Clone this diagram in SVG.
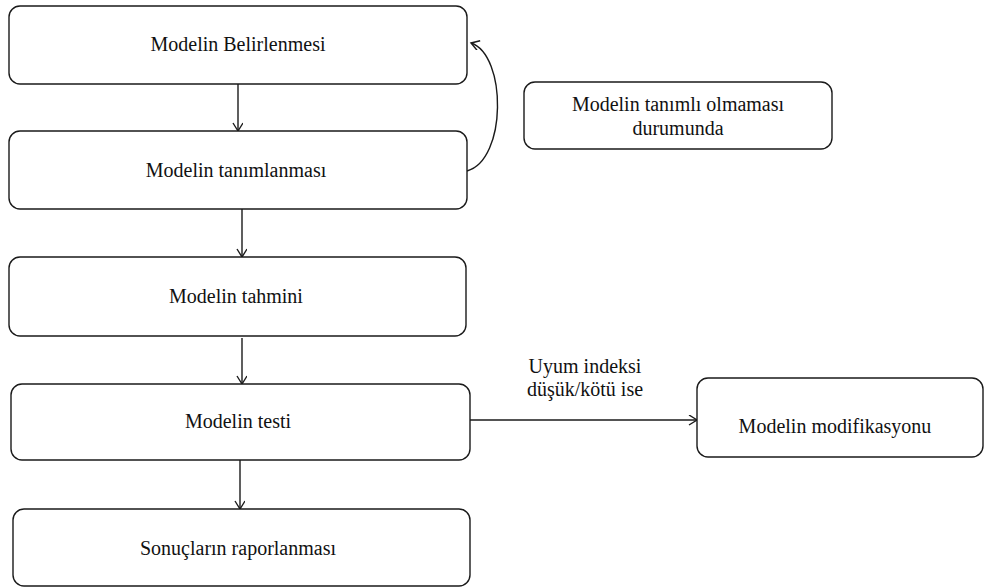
<svg xmlns="http://www.w3.org/2000/svg" width="1001" height="588" viewBox="0 0 1001 588">
<style>
.box{fill:#fff;stroke:#1a1a1a;stroke-width:1.4}
.t{font-family:'Liberation Serif','DejaVu Serif',serif;font-size:20px;fill:#111;text-anchor:middle}
.c{fill:none;stroke:#1a1a1a;stroke-width:1.4}
</style>
<defs>
<marker id="ah" markerUnits="userSpaceOnUse" markerWidth="12" markerHeight="12" refX="9" refY="5" orient="auto">
<path d="M1,0 L9,5 L1,10" fill="none" stroke="#1a1a1a" stroke-width="1.4"/>
</marker>
</defs>
<rect width="1001" height="588" fill="#fff"/>
<g id="connectors">
<line class="c" x1="238" y1="84" x2="238" y2="131" marker-end="url(#ah)"/>
<line class="c" x1="242" y1="209" x2="242" y2="257" marker-end="url(#ah)"/>
<line class="c" x1="242" y1="338" x2="242" y2="384" marker-end="url(#ah)"/>
<line class="c" x1="240" y1="460" x2="240" y2="509" marker-end="url(#ah)"/>
<line class="c" x1="470" y1="420" x2="697" y2="420" marker-end="url(#ah)"/>
<path class="c" d="M467,171 C507,160 507,55 471,43" marker-end="url(#ah)"/>
<text class="t" x="585" y="373">Uyum indeksi</text>
<text class="t" x="585" y="396">düşük/kötü ise</text>
</g>
<g id="n1"><rect class="box" x="9" y="6" width="458" height="78" rx="11"/><text class="t" x="238" y="51">Modelin Belirlenmesi</text></g>
<g id="n2"><rect class="box" x="9" y="131" width="458" height="78" rx="11"/><text class="t" x="236" y="177">Modelin tanımlanması</text></g>
<g id="n3"><rect class="box" x="9" y="257" width="457" height="79" rx="11"/><text class="t" x="236" y="303">Modelin tahmini</text></g>
<g id="n4"><rect class="box" x="11" y="384" width="459" height="76" rx="11"/><text class="t" x="238" y="428">Modelin testi</text></g>
<g id="n5"><rect class="box" x="13" y="509" width="457" height="77" rx="11"/><text class="t" x="238" y="555">Sonuçların raporlanması</text></g>
<g id="n6"><rect class="box" x="524" y="82" width="308" height="67" rx="11"/><text class="t" x="678" y="111">Modelin tanımlı olmaması</text><text class="t" x="678" y="135">durumunda</text></g>
<g id="n7"><rect class="box" x="697" y="378" width="286" height="79" rx="11"/><text class="t" x="835" y="433">Modelin modifikasyonu</text></g>
</svg>
